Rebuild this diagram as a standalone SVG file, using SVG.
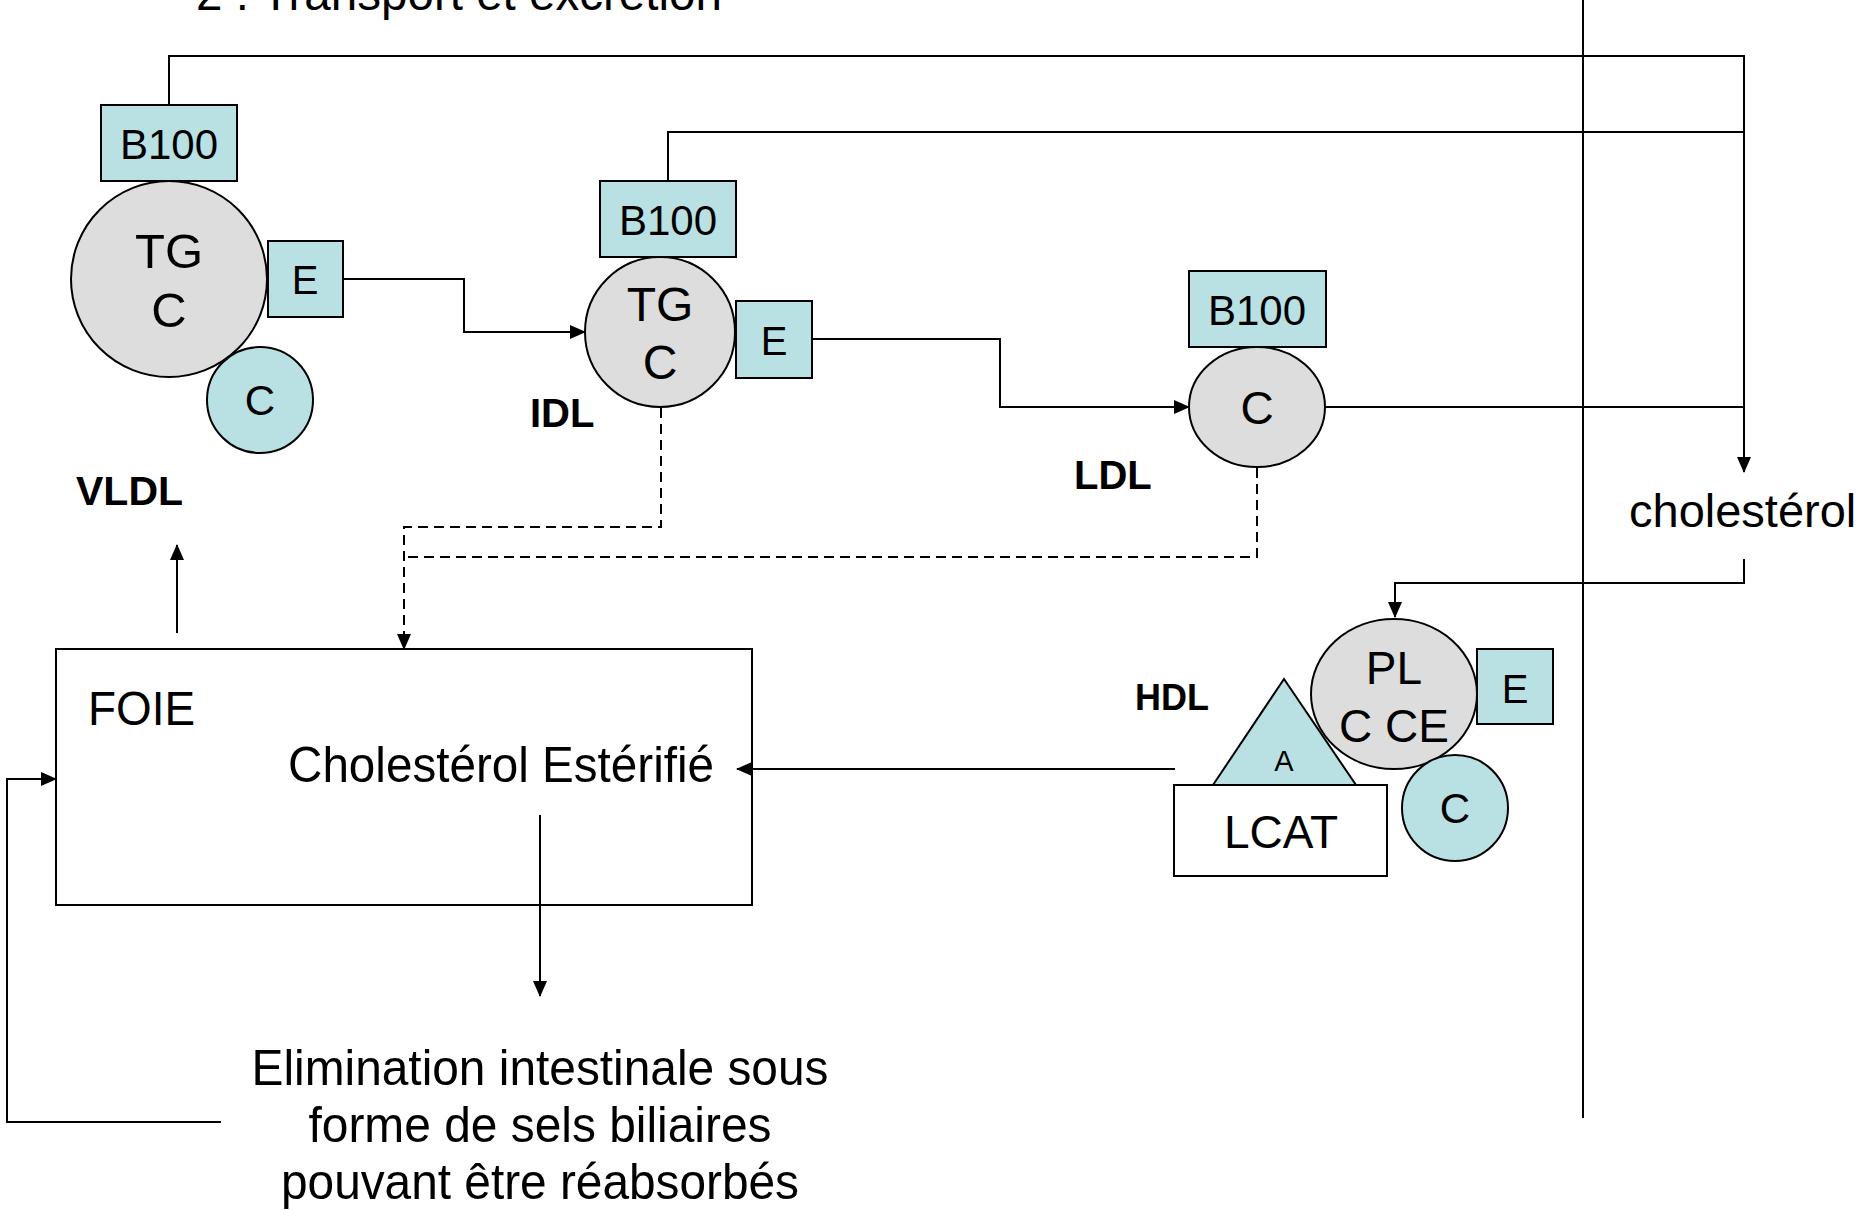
<svg xmlns="http://www.w3.org/2000/svg" width="1865" height="1210" viewBox="0 0 1865 1210">
<defs>
<style>
text{font-family:"Liberation Sans",Arial,sans-serif;fill:#000}
.blue{fill:#B9E0E3;stroke:#000;stroke-width:2}
.gray{fill:#DDDDDD;stroke:#000;stroke-width:2}
.white{fill:#FFFFFF;stroke:#000;stroke-width:2}
.ln{fill:none;stroke:#000;stroke-width:2}
.dash{fill:none;stroke:#000;stroke-width:2;stroke-dasharray:10 6}
.c{text-anchor:middle}
.b{font-weight:bold}
</style>
<marker id="ah" markerUnits="userSpaceOnUse" markerWidth="16" markerHeight="14" refX="15" refY="7" orient="auto">
<path d="M0,0 L16,7 L0,14 Z" fill="#000"/>
</marker>
</defs>
<rect width="1865" height="1210" fill="#FFFFFF"/>
<text x="196" y="10" font-size="48" textLength="526" lengthAdjust="spacingAndGlyphs">2 : Transport et excrétion</text>
<g id="vldl">
<circle class="gray" cx="169" cy="279" r="98"/>
<text class="c" x="169" y="268" font-size="49">TG</text>
<text class="c" x="169" y="327" font-size="49">C</text>
<rect class="blue" x="101" y="105" width="136" height="76"/>
<text class="c" x="169" y="159" font-size="42">B100</text>
<rect class="blue" x="268" y="241" width="75" height="76"/>
<text class="c" x="305" y="294" font-size="40">E</text>
<circle class="blue" cx="260" cy="400" r="53"/>
<text class="c" x="260" y="415" font-size="42">C</text>
<text class="b" x="76" y="505" font-size="41">VLDL</text>
</g>
<g id="idl">
<circle class="gray" cx="660" cy="332" r="75"/>
<text class="c" x="660" y="321" font-size="48">TG</text>
<text class="c" x="660" y="379" font-size="48">C</text>
<rect class="blue" x="600" y="181" width="136" height="76"/>
<text class="c" x="668" y="235" font-size="42">B100</text>
<rect class="blue" x="736" y="301" width="76" height="77"/>
<text class="c" x="774" y="355" font-size="40">E</text>
<text class="b" x="530" y="427" font-size="40">IDL</text>
</g>
<g id="ldl">
<ellipse class="gray" cx="1257" cy="407" rx="68" ry="60"/>
<text class="c" x="1257" y="424" font-size="46">C</text>
<rect class="blue" x="1189" y="271" width="137" height="76"/>
<text class="c" x="1257" y="325" font-size="42">B100</text>
<text class="b" x="1074" y="489" font-size="40">LDL</text>
</g>
<g id="cholesterol">
<text x="1629" y="527" font-size="47">cholestérol</text>
</g>
<g id="hdl">
<polygon class="blue" points="1284,679 1356,785 1213,785"/>
<text class="c" x="1284" y="771" font-size="29">A</text>
<rect class="white" x="1174" y="785" width="213" height="91"/>
<text class="c" x="1281" y="848" font-size="46">LCAT</text>
<ellipse class="gray" cx="1394" cy="694" rx="83" ry="75"/>
<text class="c" x="1394" y="684" font-size="46">PL</text>
<text class="c" x="1394" y="742" font-size="46">C CE</text>
<rect class="blue" x="1477" y="649" width="76" height="75"/>
<text class="c" x="1515" y="703" font-size="40">E</text>
<circle class="blue" cx="1455" cy="808" r="53"/>
<text class="c" x="1455" y="823" font-size="42">C</text>
<text class="b" x="1135" y="710" font-size="36">HDL</text>
</g>
<g id="foie">
<rect class="white" x="56" y="649" width="696" height="256"/>
<text x="88" y="725" font-size="48" textLength="107" lengthAdjust="spacingAndGlyphs">FOIE</text>
<text x="288" y="782" font-size="50" textLength="426" lengthAdjust="spacingAndGlyphs">Cholestérol Estérifié</text>
</g>
<g id="elimination">
<text class="c" x="540" y="1085" font-size="50" textLength="577" lengthAdjust="spacingAndGlyphs">Elimination intestinale sous</text>
<text class="c" x="540" y="1142" font-size="50" textLength="463" lengthAdjust="spacingAndGlyphs">forme de sels biliaires</text>
<text class="c" x="540" y="1199" font-size="50" textLength="518" lengthAdjust="spacingAndGlyphs">pouvant être réabsorbés</text>
</g>
<g id="connectors">
<line class="ln" x1="1583" y1="0" x2="1583" y2="1118"/>
<path class="ln" d="M169,105 V56 H1744 V472" marker-end="url(#ah)"/>
<path class="ln" d="M668,181 V132 H1744"/>
<path class="ln" d="M1326,407 H1744"/>
<path class="ln" d="M343,279 H464 V332 H585" marker-end="url(#ah)"/>
<path class="ln" d="M812,339 H1000 V407 H1189" marker-end="url(#ah)"/>
<path class="dash" d="M661,408 V527 H404 V649" marker-end="url(#ah)"/>
<path class="dash" d="M1257,468 V557 H404"/>
<path class="ln" d="M1744,559 V583 H1395 V617" marker-end="url(#ah)"/>
<path class="ln" d="M1175,769 H737" marker-end="url(#ah)"/>
<path class="ln" d="M177,633 V545" marker-end="url(#ah)"/>
<path class="ln" d="M540,815 V996" marker-end="url(#ah)"/>
<path class="ln" d="M221,1122 H7 V779 H56" marker-end="url(#ah)"/>
</g>
</svg>
